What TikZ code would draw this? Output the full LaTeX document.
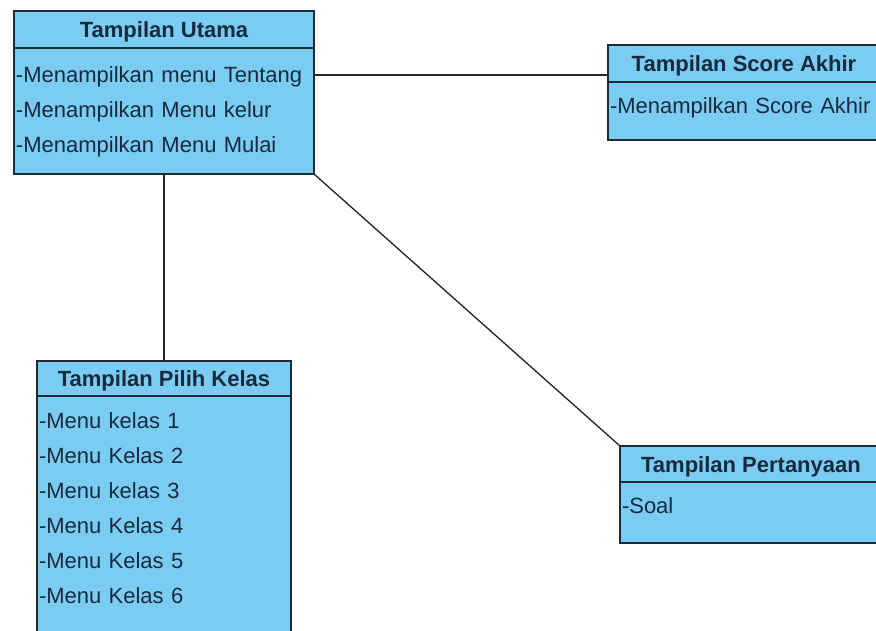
\documentclass[tikz,border=0pt]{standalone}
\usepackage{fontspec}
\setmainfont{Liberation Sans}
\usetikzlibrary{positioning}
\definecolor{boxfill}{HTML}{7ACCF2}
\definecolor{edge}{HTML}{1E2B36}
\definecolor{ink}{HTML}{1A2A3E}
\newcommand{\umlfont}{\fontsize{22}{35}\selectfont}

\begin{document}
\begin{tikzpicture}[
  x=1pt, y=-1pt,
  hd/.style={draw=edge, fill=boxfill, line width=1.5pt, inner sep=0pt, outer sep=0pt,
             font=\umlfont\bfseries, text=ink, text height=16pt, text depth=0pt},
  bd/.style={draw=edge, fill=boxfill, line width=1.5pt, inner xsep=2pt, inner ysep=0pt,
             outer sep=0pt, align=left, font=\umlfont, text=ink},
  ln/.style={line width=1.3pt, black!85},
  node distance=0pt
]
\clip (0,0) rectangle (876,630);
\node[hd, anchor=north west, minimum width=300pt, minimum height=37pt] (uthd) at (14,11) {Tampilan Utama};
\node[bd, below=of uthd, text width=296pt, text height=34pt, text depth=92pt] (utbd)
     {-Menampilkan menu Tentang\\-Menampilkan Menu kelur\\-Menampilkan Menu Mulai};
\node[hd, anchor=north west, minimum width=272pt, minimum height=37pt] (skhd) at (608,45) {Tampilan Score Akhir};
\node[bd, below=of skhd, text width=268pt, text height=31pt, text depth=27pt] (skbd)
     {-Menampilkan Score Akhir};
\node[hd, anchor=north west, minimum width=254pt, minimum height=35pt] (pkhd) at (37,361) {Tampilan Pilih Kelas};
\node[bd, below=of pkhd, text width=250pt, text height=32pt, text depth=212pt] (pkbd)
     {-Menu kelas 1\\-Menu Kelas 2\\-Menu kelas 3\\-Menu Kelas 4\\-Menu Kelas 5\\-Menu Kelas 6};
\node[hd, anchor=north west, minimum width=262pt, minimum height=36pt] (tyhd) at (620,446) {Tampilan Pertanyaan};
\node[bd, below=of tyhd, text width=258pt, text height=31pt, text depth=30pt] (tybd)
     {-Soal};
\draw[ln] ([yshift=-11.5pt]skhd.west -| utbd.east) -- ([yshift=-11.5pt]skhd.west);
\draw[ln] (utbd.south) -- (pkhd.north);
\draw[ln] (utbd.south east) -- (tyhd.north west);
\end{tikzpicture}
\end{document}
